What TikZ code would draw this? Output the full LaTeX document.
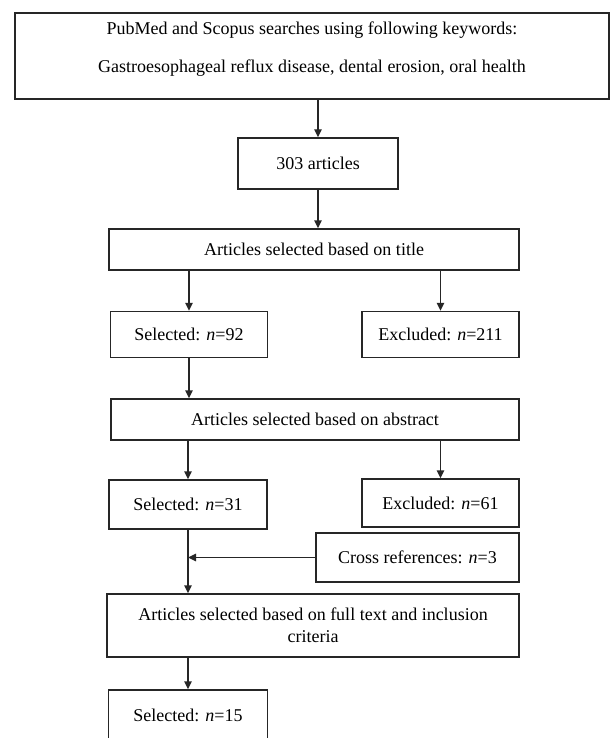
\documentclass[tikz,border=0pt]{standalone}
\usepackage{fontspec}
\setmainfont{Liberation Serif}
\usetikzlibrary{arrows.meta}
\begin{document}
\begin{tikzpicture}[x=0.75pt,y=-0.75pt,
  box/.style={draw=black!85, line width=1.1pt, rectangle, inner sep=0pt, align=center,
    font=\fontsize{13.5}{16.5}\selectfont},
  txt/.style={inner sep=0pt, align=center, font=\fontsize{13.5}{28.5}\selectfont},
  arr/.style={draw=black!85, line width=1.1pt, -{Triangle[length=6pt,width=5.5pt]}},
  ln/.style={draw=black!85, line width=1.1pt}]
\useasboundingbox[fill=white] (0,0) rectangle (613,738);
\node[box, minimum width=594*0.75pt, minimum height=86*0.75pt] (top) at (312,56) {};
\node[txt] (toptext) at (312,49) {PubMed and Scopus searches using following keywords:\\Gastroesophageal reflux disease, dental erosion, oral health};
\node[box, minimum width=160*0.75pt, minimum height=51*0.75pt] (n303) at (318,163.5) {303 articles};
\node[box, minimum width=410*0.75pt, minimum height=41*0.75pt] (title) at (314,249.5) {Articles selected based on title};
\node[box, minimum width=157*0.75pt, minimum height=46*0.75pt] (sel92) at (189,334.5) {Selected: \textit{n}=92};
\node[box, minimum width=157*0.75pt, minimum height=46*0.75pt] (exc211) at (440.5,334.5) {Excluded: \textit{n}=211};
\node[box, minimum width=408*0.75pt, minimum height=41*0.75pt] (abs) at (315,419.5) {Articles selected based on abstract};
\node[box, minimum width=158*0.75pt, minimum height=49*0.75pt] (sel31) at (188,504.5) {Selected: \textit{n}=31};
\node[box, minimum width=157*0.75pt, minimum height=48*0.75pt] (exc61) at (440.5,503) {Excluded: \textit{n}=61};
\node[box, minimum width=203*0.75pt, minimum height=49*0.75pt] (cross) at (417.5,557.5) {Cross references: \textit{n}=3};
\node[box, minimum width=412*0.75pt, minimum height=63*0.75pt] (full) at (313,625.5) {Articles selected based on full text and inclusion\\criteria};
\node[box, minimum width=159*0.75pt, minimum height=50*0.75pt] (sel15) at (188,715) {Selected: \textit{n}=15};
\coordinate (join) at (sel31.south |- cross.west);
\draw[arr] (top.south -| n303) -- (n303.north);
\draw[arr] (n303.south) -- (title.north -| n303);
\draw[arr] (title.south -| sel92) -- (sel92.north);
\draw[arr] (title.south -| exc211) -- (exc211.north);
\draw[arr] (sel92.south) -- (abs.north -| sel92);
\draw[arr] (abs.south -| sel31) -- (sel31.north);
\draw[arr] (abs.south -| exc61) -- (exc61.north);
\draw[arr] (sel31.south) -- (full.north -| sel31);
\draw[arr] (cross.west) -- (join);
\draw[arr] (full.south -| sel15) -- (sel15.north);
\end{tikzpicture}
\end{document}
